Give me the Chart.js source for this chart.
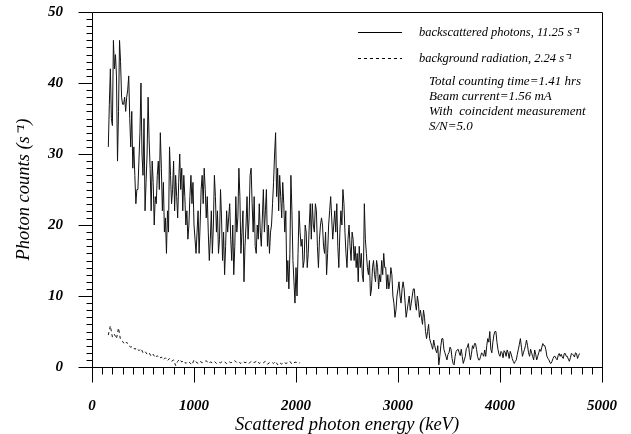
<!DOCTYPE html>
<html>
<head>
  <title>Backscattered photon spectrum</title>
  <script src="https://cdn.jsdelivr.net/npm/chart.js"></script>
  <style>
    body { margin: 0; background: #fff; }
  </style>
</head>
<body>
  <canvas id="spectrum" width="631" height="434"></canvas>

  <script>
    // channel grid of the spectrum (keV)
    const energyStart = 160;
    const energyStep = 10;

    // backscattered photons, counts per second, one value per 10 keV channel
    const backscattered = [
      31, 37, 42, 35, 34, 46, 42, 44, 41, 29,
      36, 46, 43, 38, 37, 37, 38, 36, 38, 39,
      41, 35, 31, 36, 28, 31, 27, 23, 25, 25,
      29, 33, 40, 30, 27, 35, 22, 26, 30, 38,
      32, 28, 22, 29, 26, 20, 24, 23, 27, 29,
      25, 33, 28, 22, 26, 19, 21, 16, 22, 19,
      31, 27, 23, 25, 29, 22, 27, 24, 21, 26,
      30, 25, 28, 22, 27, 24, 20, 22, 18, 20,
      24, 27, 23, 26, 20, 18, 16, 19, 22, 16,
      20, 25, 27, 23, 28, 25, 21, 24, 19, 15,
      18, 22, 16, 20, 27, 24, 19, 22, 16, 18,
      25, 21, 15, 19, 13, 17, 22, 19, 21, 23,
      18, 15, 20, 13, 17, 24, 19, 21, 28, 24,
      16, 19, 22, 12, 17, 20, 24, 18, 21, 27,
      28, 23, 19, 24, 17, 16, 20, 18, 23, 19,
      17, 21, 25, 19, 22, 25, 17, 20, 16, 19,
      20, 23, 26, 30, 33, 24, 28, 22, 27, 24,
      21, 26, 23, 19, 22, 12, 15, 11, 16, 27,
      22, 15, 12, 9, 14, 10, 16, 22, 19, 17,
      18, 14, 15, 20, 19, 14, 16, 20, 23, 18,
      23, 20, 19, 23, 22, 17, 14, 18, 20, 21,
      20, 17, 16, 19, 13, 16, 20, 22, 24, 21,
      18, 20, 22, 19, 23, 17, 14, 19, 22, 20,
      25, 23, 19, 16, 14, 18, 20, 17, 15, 19,
      18, 15, 17, 14, 16, 12, 17, 14, 16, 13,
      12, 23, 18, 16, 14, 13, 15, 10, 11, 14,
      15, 13, 12, 15, 14, 11, 13, 12, 15, 13,
      16, 14, 14, 11, 13, 11, 12, 14, 13, 10,
      9, 7, 8, 10, 11, 12, 10, 9, 11, 12,
      11, 9, 7, 8, 9, 10, 8, 9, 10, 11,
      11, 9, 8, 10, 9, 7, 8, 7, 6, 8,
      7, 5, 4, 5, 6, 4, 3.5, 3, 2.5, 3.8,
      3, 2.4, 2, 3, 0.3, 1.5, 3, 4, 4, 2.5,
      2, 1.5, 1, 1.8, 2, 2.8, 2.5, 1.2, 0.5, 0.3,
      1.5, 2.2, 2.4, 2.5, 2, 1.6, 2.5, 1.5, 0.5, 1,
      1.5, 2.6, 2.8, 3.3, 2, 1, 1.8, 3, 2.6, 3.3,
      3.3, 2.5, 1.5, 1, 1, 1.5, 2, 1.8, 1.5, 2.4,
      1.5, 3, 4, 3.5, 5, 2.5, 2, 3.5, 4.5, 5,
      5, 3.5, 2.5, 1.8, 1.5, 2.2, 2, 1.3, 2.3, 2.1,
      1.5, 2.4, 2, 1.2, 2.2, 1.8, 1.2, 0.8, 0.5, 0.8,
      1, 1.8, 2.5, 3.2, 4, 2.8, 1.5, 2, 2.5, 3,
      3.8, 3, 2, 1.5, 2.5, 2, 1.5, 1, 2.4, 1.8,
      1, 1.5, 2, 2.5, 2.2, 2.8, 3.3, 3, 3, 2.4,
      1.5, 1.2, 1, 0.6, 0.5, 0.8, 1.2, 1.5, 1.5, 1.2,
      1, 1.6, 1.9, 1.5, 1.8, 1.4, 1.2, 1.9, 1.9, 1.5,
      1.5, 1.1, 0.8, 1.3, 1.9, 1.8, 1.7, 1.4, 2, 1.9,
      1.2, 1.6, 1.9
    ];

    // background radiation, 20 keV channels from the same start
    const backgroundStep = 20;
    const background = [
      4.5, 5.8, 4.2, 4.6, 4.0, 5.5, 3.8, 3.6, 3.2, 3.5,
      3.0, 2.8, 2.9, 2.5, 2.7, 2.3, 2.6, 2.0, 2.2, 1.8,
      2.0, 1.5, 1.8, 1.3, 1.6, 1.2, 1.4, 1.0, 1.3, 0.9,
      1.2, 0.8, 1.0, 0.2, 0.8, 1.1, 0.7, 0.9, 0.5, 0.8,
      0.6, 0.3, 1.0, 0.7, 0.5, 0.8, 0.6, 0.7, 0.9, 0.5,
      0.7, 0.6, 0.8, 0.5, 0.7, 0.6, 0.8, 0.7, 0.5, 0.8,
      0.6, 0.7, 0.9, 0.6, 0.7, 0.5, 0.8, 0.6, 0.7, 0.5,
      0.8, 0.6, 0.7, 0.9, 0.5, 0.7, 0.6, 0.8, 0.4, 0.6,
      0.7, 0.5, 0.8, 0.3, 0.6, 0.4, 0.7, 0.5, 0.6, 0.8,
      0.4, 0.6, 0.7, 0.5, 0.6
    ];

    const xTicks = [0, 1000, 2000, 3000, 4000, 5000];
    const yTicks = [0, 10, 20, 30, 40, 50];

    const seriesLabels = [
      'backscattered photons, 11.25 s\u207B\u00B9',
      'background radiation, 2.24 s\u207B\u00B9'
    ];
    const notes = [
      'Total counting time=1.41 hrs',
      'Beam current=1.56 mA',
      'With  coincident measurement',
      'S/N=5.0'
    ];

    const serif = '"Liberation Serif", "Times New Roman", serif';
    const tickFont = { family: serif, style: 'italic', weight: 'bold', size: 15 };
    const titleFont = { family: serif, style: 'italic', size: 18.5, lineHeight: 1 };

    const toPoints = (arr, step) => arr.map((c, i) => ({ x: energyStart + i * step, y: c }));

    // keep the plot box where the layout padding puts it
    const noEdgePadding = s => {
      s.paddingLeft = s.paddingRight = s.paddingTop = s.paddingBottom = 0;
    };

    // frame, minor/major ticks, legend and notes
    const framePlugin = {
      id: 'frame',
      afterDraw(chart) {
        const ctx = chart.ctx;
        const xs = chart.scales.x, ys = chart.scales.y;
        const px = v => Math.round(xs.getPixelForValue(v)) + 0.5;
        const py = v => Math.round(ys.getPixelForValue(v)) + 0.5;
        const left = px(0), right = px(5000), top = py(50), bottom = py(0);

        ctx.save();
        ctx.strokeStyle = '#000';
        ctx.lineWidth = 1;
        ctx.beginPath();
        ctx.moveTo(left, top); ctx.lineTo(right, top);
        ctx.moveTo(right, top); ctx.lineTo(right, bottom + 15);
        ctx.moveTo(left, top); ctx.lineTo(left, bottom + 15);
        ctx.moveTo(left, bottom); ctx.lineTo(right, bottom);
        for (let v = 100; v < 5000; v += 100) {
          const len = v % 1000 === 0 ? 15 : 7;
          ctx.moveTo(px(v), bottom); ctx.lineTo(px(v), bottom + len);
        }
        for (let v = 0; v <= 50; v++) {
          const len = v % 10 === 0 ? 14 : 6;
          ctx.moveTo(left - len, py(v)); ctx.lineTo(left, py(v));
        }
        ctx.stroke();

        // legend
        ctx.fillStyle = '#000';
        ctx.textBaseline = 'middle';
        ctx.font = 'italic 12.5px ' + serif;
        chart.data.datasets.forEach((ds, i) => {
          const ly = 32.5 + i * 26;
          ctx.setLineDash(ds.borderDash || []);
          ctx.beginPath();
          ctx.moveTo(358, ly); ctx.lineTo(402, ly);
          ctx.stroke();
          ctx.setLineDash([]);
          ctx.fillText(ds.label, 419, ly);
        });

        ctx.font = 'italic 13px ' + serif;
        notes.forEach((t, i) => ctx.fillText(t, 429, 82 + i * 15));
        ctx.restore();
      }
    };

    new Chart(document.getElementById('spectrum'), {
      type: 'line',
      data: {
        datasets: [{
          label: seriesLabels[0],
          data: toPoints(backscattered, energyStep),
          borderColor: '#111',
          borderWidth: 1,
          pointRadius: 0,
          tension: 0
        }, {
          label: seriesLabels[1],
          data: toPoints(background, backgroundStep),
          borderColor: '#111',
          borderWidth: 1,
          borderDash: [3, 3],
          pointRadius: 0,
          tension: 0
        }]
      },
      options: {
        responsive: false,
        animation: false,
        layout: { padding: { top: 12, right: 29, left: 0, bottom: 0 } },
        plugins: { legend: { display: false }, tooltip: { enabled: false } },
        scales: {
          x: {
            type: 'linear',
            min: 0,
            max: 5000,
            grid: { display: false, drawTicks: false },
            border: { display: false },
            afterBuildTicks: s => { s.ticks = xTicks.map(v => ({ value: v })); },
            afterFit: s => { s.height = 67; noEdgePadding(s); },
            ticks: {
              padding: 30, color: '#000', font: tickFont,
              maxRotation: 0, autoSkip: false,
              callback: v => String(v)
            },
            title: {
              display: true,
              text: 'Scattered photon energy (keV)',
              color: '#000',
              font: titleFont,
              padding: { top: 0, bottom: 0 }
            }
          },
          y: {
            min: 0,
            max: 50,
            grid: { display: false, drawTicks: false },
            border: { display: false },
            afterBuildTicks: s => { s.ticks = yTicks.map(v => ({ value: v })); },
            afterFit: s => { s.width = 92; noEdgePadding(s); },
            ticks: { padding: 29, color: '#000', font: tickFont, callback: v => String(v) },
            title: {
              display: true,
              text: 'Photon counts (s\u207B\u00B9)',
              color: '#000',
              font: titleFont,
              padding: { top: 15, bottom: 0 }
            }
          }
        }
      },
      plugins: [framePlugin]
    });
  </script>
</body>
</html>
